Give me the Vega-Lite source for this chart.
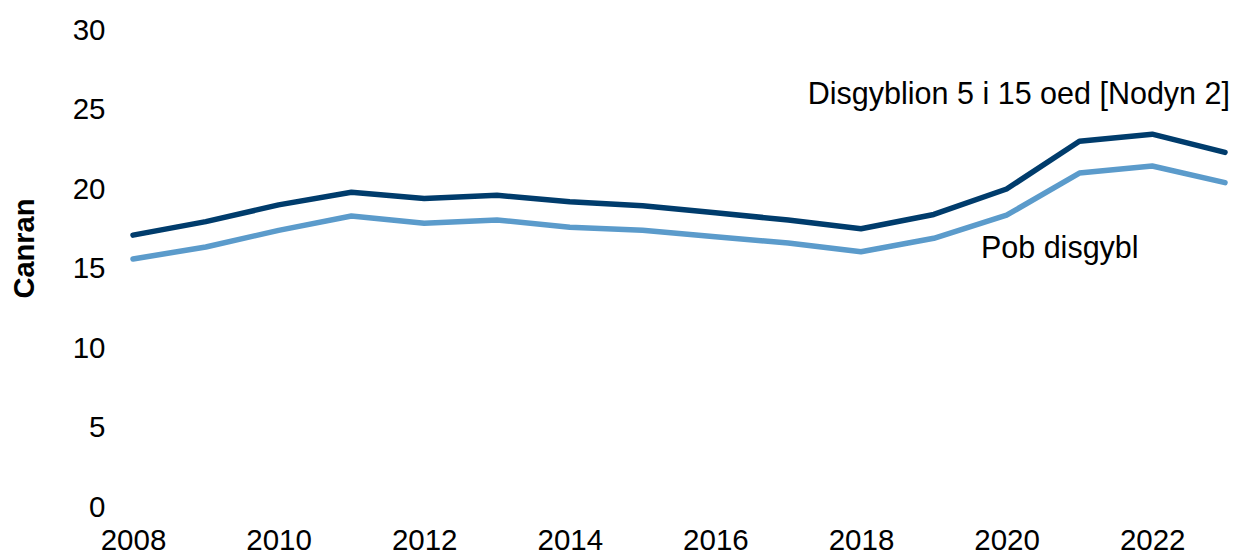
{
  "$schema": "https://vega.github.io/schema/vega-lite/v6.json",
  "autosize": {"type": "none"},
  "width": 1092,
  "height": 477,
  "padding": {"left": 133, "top": 30, "right": 10, "bottom": 48},
  "background": "white",
  "config": {
    "view": {"stroke": null},
    "font": "Liberation Sans"
  },
  "datasets": {
    "series": [
      {"year": 2008, "value": 17.1, "series": "Disgyblion 5 i 15 oed [Nodyn 2]"},
      {"year": 2009, "value": 17.95, "series": "Disgyblion 5 i 15 oed [Nodyn 2]"},
      {"year": 2010, "value": 19.0, "series": "Disgyblion 5 i 15 oed [Nodyn 2]"},
      {"year": 2011, "value": 19.8, "series": "Disgyblion 5 i 15 oed [Nodyn 2]"},
      {"year": 2012, "value": 19.4, "series": "Disgyblion 5 i 15 oed [Nodyn 2]"},
      {"year": 2013, "value": 19.6, "series": "Disgyblion 5 i 15 oed [Nodyn 2]"},
      {"year": 2014, "value": 19.2, "series": "Disgyblion 5 i 15 oed [Nodyn 2]"},
      {"year": 2015, "value": 18.95, "series": "Disgyblion 5 i 15 oed [Nodyn 2]"},
      {"year": 2016, "value": 18.5, "series": "Disgyblion 5 i 15 oed [Nodyn 2]"},
      {"year": 2017, "value": 18.05, "series": "Disgyblion 5 i 15 oed [Nodyn 2]"},
      {"year": 2018, "value": 17.5, "series": "Disgyblion 5 i 15 oed [Nodyn 2]"},
      {"year": 2019, "value": 18.4, "series": "Disgyblion 5 i 15 oed [Nodyn 2]"},
      {"year": 2020, "value": 20.0, "series": "Disgyblion 5 i 15 oed [Nodyn 2]"},
      {"year": 2021, "value": 23.0, "series": "Disgyblion 5 i 15 oed [Nodyn 2]"},
      {"year": 2022, "value": 23.45, "series": "Disgyblion 5 i 15 oed [Nodyn 2]"},
      {"year": 2023, "value": 22.3, "series": "Disgyblion 5 i 15 oed [Nodyn 2]"},
      {"year": 2008, "value": 15.6, "series": "Pob disgybl"},
      {"year": 2009, "value": 16.35, "series": "Pob disgybl"},
      {"year": 2010, "value": 17.4, "series": "Pob disgybl"},
      {"year": 2011, "value": 18.3, "series": "Pob disgybl"},
      {"year": 2012, "value": 17.85, "series": "Pob disgybl"},
      {"year": 2013, "value": 18.05, "series": "Pob disgybl"},
      {"year": 2014, "value": 17.6, "series": "Pob disgybl"},
      {"year": 2015, "value": 17.4, "series": "Pob disgybl"},
      {"year": 2016, "value": 17.0, "series": "Pob disgybl"},
      {"year": 2017, "value": 16.6, "series": "Pob disgybl"},
      {"year": 2018, "value": 16.05, "series": "Pob disgybl"},
      {"year": 2019, "value": 16.9, "series": "Pob disgybl"},
      {"year": 2020, "value": 18.35, "series": "Pob disgybl"},
      {"year": 2021, "value": 21.0, "series": "Pob disgybl"},
      {"year": 2022, "value": 21.45, "series": "Pob disgybl"},
      {"year": 2023, "value": 20.4, "series": "Pob disgybl"}
    ],
    "labelRight": [
      {"year": 2023, "value": 25.9, "label": "Disgyblion 5 i 15 oed [Nodyn 2]"}
    ],
    "labelCenter": [
      {"year": 2020.73, "value": 16.2, "label": "Pob disgybl"}
    ]
  },
  "layer": [
    {
      "data": {"name": "series"},
      "mark": {"type": "line", "strokeWidth": 5.5, "strokeCap": "round", "strokeJoin": "round"},
      "encoding": {
        "x": {
          "field": "year", "type": "quantitative",
          "scale": {"domain": [2008, 2023], "nice": false, "zero": false},
          "axis": {
            "title": null, "values": [2008, 2010, 2012, 2014, 2016, 2018, 2020, 2022],
            "format": "d", "domain": false, "ticks": false, "grid": false,
            "labelFontSize": 29.5, "labelColor": "#000000", "labelPadding": 19,
            "labelFont": "Liberation Sans", "labelFlush": false
          }
        },
        "y": {
          "field": "value", "type": "quantitative",
          "scale": {"domain": [0, 30], "nice": false},
          "axis": {
            "title": "Canran", "values": [0, 5, 10, 15, 20, 25, 30],
            "domain": false, "ticks": false, "grid": false,
            "labelFontSize": 29.5, "labelColor": "#000000", "labelPadding": 28,
            "labelFont": "Liberation Sans",
            "titleFont": "Liberation Sans", "titleFontSize": 29, "titleFontWeight": "bold",
            "titleColor": "#000000", "titleX": -109, "titleY": 218, "titleAngle": -90,
            "titleBaseline": "middle", "titleAlign": "center"
          }
        },
        "color": {
          "field": "series", "type": "nominal",
          "scale": {"domain": ["Disgyblion 5 i 15 oed [Nodyn 2]", "Pob disgybl"], "range": ["#003C6C", "#5B9BCB"]},
          "legend": null
        }
      }
    },
    {
      "data": {"name": "labelRight"},
      "mark": {"type": "text", "fontSize": 30.5, "font": "Liberation Sans", "color": "#000000", "baseline": "middle", "align": "right", "dx": 5},
      "encoding": {
        "x": {"field": "year", "type": "quantitative"},
        "y": {"field": "value", "type": "quantitative"},
        "text": {"field": "label"}
      }
    },
    {
      "data": {"name": "labelCenter"},
      "mark": {"type": "text", "fontSize": 30.5, "font": "Liberation Sans", "color": "#000000", "baseline": "middle", "align": "center"},
      "encoding": {
        "x": {"field": "year", "type": "quantitative"},
        "y": {"field": "value", "type": "quantitative"},
        "text": {"field": "label"}
      }
    }
  ]
}
